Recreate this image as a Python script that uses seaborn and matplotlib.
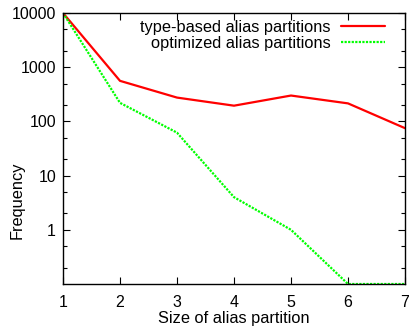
import numpy as np
import pandas as pd
import matplotlib
matplotlib.use('Agg')
import matplotlib.pyplot as plt
import seaborn as sns
from matplotlib.ticker import LogLocator, FixedLocator, NullFormatter

#--------------------------------------------------
sizes = [1, 2, 3, 4, 5, 6, 7]
type_based = [10000, 560, 275, 195, 300, 215, 75]
optimized = [10000, 220, 62, 4, 1, 0.1, 0.1]
series_names = ['type-based alias partitions', 'optimized alias partitions']
series_colors = ['#ff0000', '#00ff00']

#--------------------------------------------------
def main():
    sns.set_style('ticks')
    plt.rcParams['font.family'] = ['Liberation Sans', 'DejaVu Sans']
    plt.rcParams['text.color'] = 'black'
    plt.rcParams['axes.labelcolor'] = 'black'

    df = pd.DataFrame({
        'size': sizes * 2,
        'freq': type_based + optimized,
        'series': [series_names[0]] * len(sizes) + [series_names[1]] * len(sizes),
    })

    fig = plt.figure(figsize = (4.09, 3.28), dpi = 100)
    ax = fig.add_axes([63 / 409, 1 - 284 / 328, 342 / 409, 271 / 328])

    sns.lineplot(data = df, x = 'size', y = 'freq', hue = 'series', style = 'series',
                 palette = series_colors, dashes = [(None, None), (1, 0.6)],
                 linewidth = 1.6, ax = ax, legend = False)

    ax.set_yscale('log')
    ax.set_xlim(1, 7)
    ax.set_ylim(0.1, 10000)
    ax.yaxis.set_major_locator(FixedLocator([1, 10, 100, 1000, 10000]))
    ax.set_yticklabels(['1', '10', '100', '1000', '10000'])
    ax.yaxis.set_minor_locator(LogLocator(base = 10, subs = (2, 5), numticks = 20))
    ax.yaxis.set_minor_formatter(NullFormatter())
    ax.set_xticks(sizes)

    ax.tick_params(which = 'both', direction = 'in', top = True, right = True,
                   labelsize = 11.5, colors = 'black', pad = 5)
    ax.tick_params(axis = 'x', pad = 8)
    ax.tick_params(which = 'major', length = 5, width = 0.8)
    ax.tick_params(which = 'minor', length = 3, width = 0.8)
    for s in ax.spines.values():
        s.set_visible(True)
        s.set_linewidth(1.0)
        s.set_color('black')

    ax.set_xlabel('Size of alias partition', fontsize = 11.8, labelpad = 1)
    ax.set_ylabel('Frequency', fontsize = 11.8)
    ax.yaxis.set_label_coords(-0.111, 0.31)

    handles = ax.get_lines()[:2]
    ax.legend(handles, series_names, loc = 'upper right', frameon = False,
              bbox_to_anchor = (0.9605, 1.0),
              markerfirst = False, fontsize = 11.8, handlelength = 2.7,
              handletextpad = 0.6, borderaxespad = 0, labelspacing = 0.1)

    fig.savefig('out.png', dpi = 100)


#--------------------------------------------------
if __name__ == '__main__':
    main()
